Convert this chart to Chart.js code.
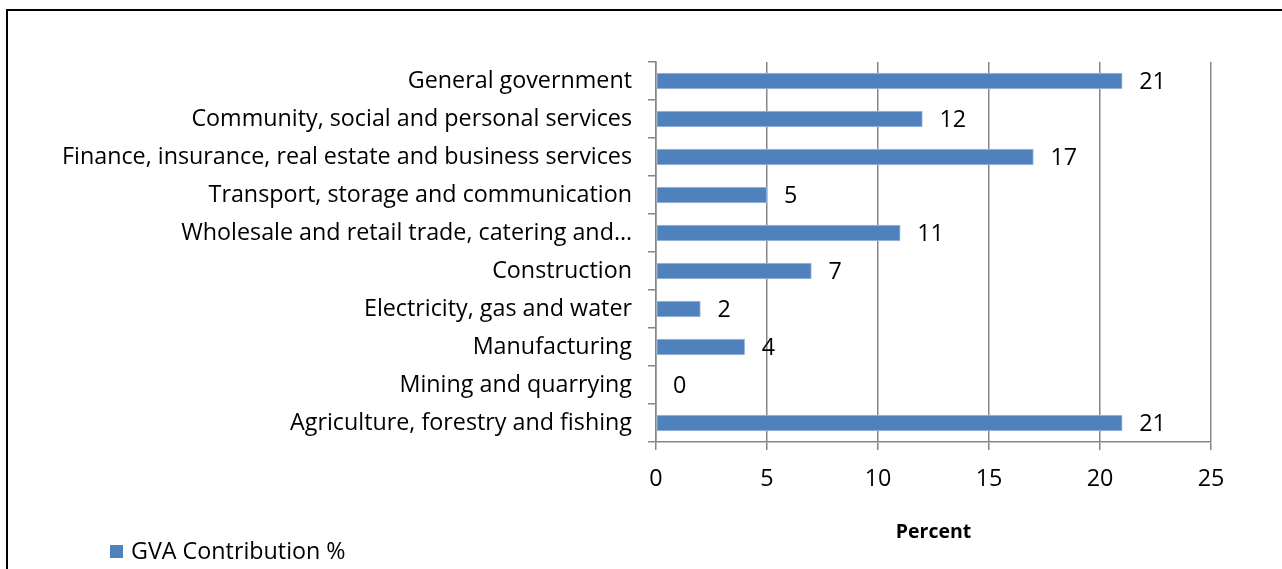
<!DOCTYPE html>
<html>
<head>
<meta charset="utf-8">
<script src="https://cdn.jsdelivr.net/npm/chart.js@4/dist/chart.umd.min.js"></script>
<style>
  html, body { margin: 0; padding: 0; background: #fff; overflow: hidden; }
  #frame {
    position: absolute; left: 6px; top: 9px;
    width: 1300px; height: 600px;
    border: 2px solid #000;
  }
  #myChart { position: absolute; left: 0; top: 0; }
</style>
</head>
<body>
<div id="frame"></div>
<canvas id="myChart" width="1282" height="569"></canvas>
<script>
// Sectors, listed top to bottom
const sectors = [
  "General government",
  "Community, social and personal services",
  "Finance, insurance, real estate and business services",
  "Transport, storage and communication",
  "Wholesale and retail trade, catering and\u2026",
  "Construction",
  "Electricity, gas and water",
  "Manufacturing",
  "Mining and quarrying",
  "Agriculture, forestry and fishing"
];
const gvaShare = [21, 12, 17, 5, 11, 7, 2, 4, 0, 21];
const seriesName = "GVA Contribution %";
const axisTitle = "Percent";

const fontFamily = "'Open Sans', 'Liberation Sans', sans-serif";
const textSize = 23.3;
const barColor = "#4F81BD";
const gridColor = "#868686";

// Value printed just past the end of each bar
const valueLabels = {
  id: "valueLabels",
  afterDatasetsDraw(chart) {
    const ctx = chart.ctx;
    const meta = chart.getDatasetMeta(0);
    ctx.save();
    ctx.font = textSize + "px " + fontFamily;
    ctx.fillStyle = "#000";
    ctx.textAlign = "left";
    ctx.textBaseline = "middle";
    meta.data.forEach((bar, i) => {
      ctx.fillText(String(chart.data.datasets[0].data[i]), bar.x + 17, bar.y + 1);
    });
    ctx.restore();
  }
};

// Legend sits at the bottom left, away from the plot
const cornerLegend = {
  id: "cornerLegend",
  afterDraw(chart) {
    const ctx = chart.ctx;
    const ds = chart.data.datasets[0];
    ctx.save();
    ctx.fillStyle = ds.backgroundColor;
    ctx.fillRect(110, 545, 13, 13);
    ctx.font = textSize + "px " + fontFamily;
    ctx.fillStyle = "#000";
    ctx.textBaseline = "middle";
    ctx.fillText(ds.label, 131, 552);
    ctx.restore();
  }
};

new Chart("myChart", {
  type: "bar",
  data: {
    labels: sectors,
    datasets: [{
      label: seriesName,
      data: gvaShare,
      backgroundColor: barColor,
      borderColor: "#A7C0DE",
      borderWidth: 1,
      borderSkipped: false,
      barThickness: 16
    }]
  },
  plugins: [valueLabels, cornerLegend],
  options: {
    indexAxis: "y",
    responsive: false,
    devicePixelRatio: 1,
    animation: false,
    layout: { padding: { top: 62, right: 71, left: 0, bottom: 0 } },
    plugins: {
      legend: { display: false },
      tooltip: { enabled: false }
    },
    scales: {
      x: {
        min: 0,
        max: 25,
        ticks: {
          stepSize: 5,
          color: "#000",
          padding: 15,
          font: { family: fontFamily, size: textSize }
        },
        grid: {
          color: gridColor,
          lineWidth: 1.5,
          tickLength: 8
        },
        border: { color: gridColor, width: 1.5 },
        title: {
          display: true,
          text: axisTitle,
          color: "#000",
          font: { family: fontFamily, size: 19.5, weight: "bold" },
          padding: { top: 0, bottom: 25 }
        },
        afterFit(scale) { scale.height = 127; }
      },
      y: {
        ticks: {
          color: "#000",
          padding: 16,
          autoSkip: false,
          font: { family: fontFamily, size: textSize }
        },
        grid: {
          offset: true,
          drawOnChartArea: false,
          color: gridColor,
          lineWidth: 1.5,
          tickLength: 8
        },
        border: { color: gridColor, width: 1.5 },
        afterFit(scale) { scale.width = 656; }
      }
    }
  }
});
</script>
</body>
</html>
